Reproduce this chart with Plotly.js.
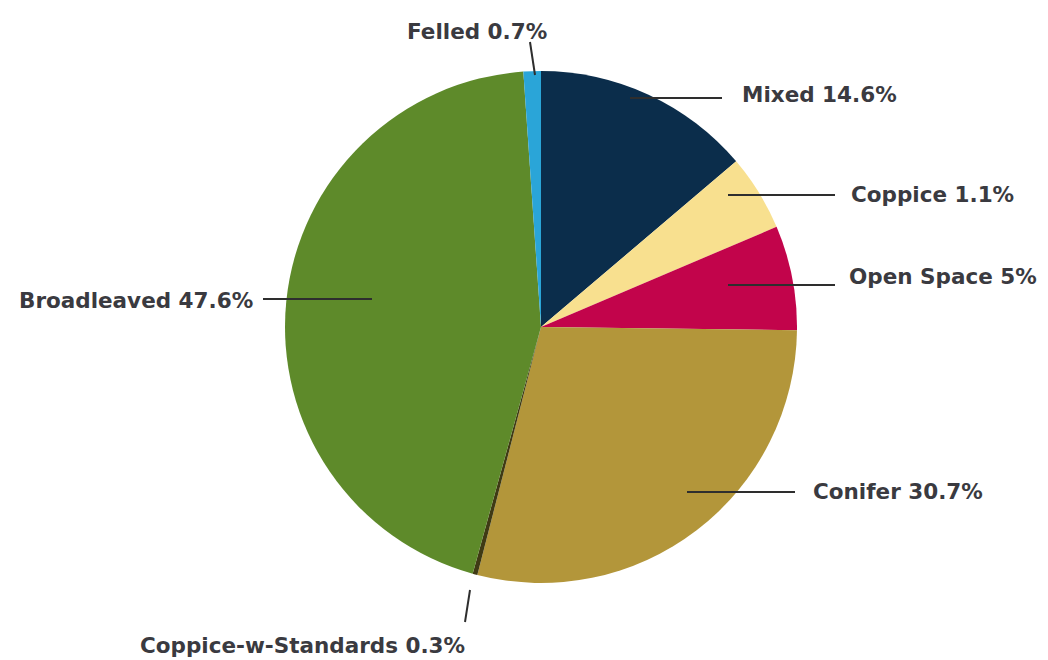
<!DOCTYPE html>
<html>
<head>
<meta charset="utf-8">
<script src="https://cdn.plot.ly/plotly-3.0.1.min.js"></script>
<style>html,body{margin:0;padding:0;background:#fff;}#chart{width:1048px;height:660px;}</style>
</head>
<body>
<div id="chart"></div>
<script>
// Categories in clockwise order starting at 12 o'clock
const categories = ['Mixed', 'Coppice', 'Open Space', 'Conifer', 'Coppice-w-Standards', 'Broadleaved', 'Felled'];
// Slice sizes as drawn in the picture
const sliceShares = [13.8, 4.8, 6.6, 28.8, 0.3, 44.6, 1.1];
// Percentages as printed on the labels
const printedPct = ['14.6%', '1.1%', '5%', '30.7%', '0.3%', '47.6%', '0.7%'];
const sliceColors = ['#0b2d4b', '#f8e08f', '#c2044b', '#b3963a', '#3f3a14', '#5e8a2a', '#2aa5d8'];

const W = 1048, H = 660;
const px = x => x / W;
const py = y => 1 - y / H;

// label placement (pixel positions) and leader lines
const labelPos = [
  {x: 740, y: 95, anchor: 'left'},
  {x: 849, y: 194, anchor: 'left'},
  {x: 847, y: 276, anchor: 'left'},
  {x: 811, y: 491, anchor: 'left'},
  {x: 138, y: 645, anchor: 'left'},
  {x: 255, y: 300, anchor: 'right'},
  {x: 549, y: 32, anchor: 'right'}
];
const leaders = [
  [630, 98, 722, 98],
  [728, 195, 835, 195],
  [728, 285, 835, 285],
  [687, 492, 795, 492],
  [470, 590, 465, 622],
  [263, 299, 372, 299],
  [530, 42, 535, 75]
];

const trace = {
  type: 'pie',
  labels: categories,
  values: sliceShares,
  sort: false,
  direction: 'clockwise',
  rotation: 0,
  textinfo: 'none',
  hoverinfo: 'label',
  marker: {colors: sliceColors, line: {width: 0}},
  domain: {x: [(541 - 256) / W, (541 + 256) / W], y: [(333 - 256) / H, (333 + 256) / H]},
  showlegend: false
};

const annotations = categories.map((c, i) => ({
  text: c + ' ' + printedPct[i],
  xref: 'paper', yref: 'paper',
  x: px(labelPos[i].x), y: py(labelPos[i].y),
  xanchor: labelPos[i].anchor, yanchor: 'middle',
  showarrow: false,
  font: {family: 'DejaVu Sans', size: 21.5, color: '#3a3a40', weight: 700}
}));

const shapes = leaders.map(l => ({
  type: 'line', xref: 'paper', yref: 'paper',
  x0: px(l[0]), y0: py(l[1]), x1: px(l[2]), y1: py(l[3]),
  line: {color: '#2e2e2e', width: 2}
}));

const layout = {
  width: W, height: H,
  margin: {l: 0, r: 0, t: 0, b: 0},
  paper_bgcolor: '#ffffff',
  annotations: annotations,
  shapes: shapes
};

Plotly.newPlot('chart', [trace], layout, {displayModeBar: false, staticPlot: true});
</script>
</body>
</html>
